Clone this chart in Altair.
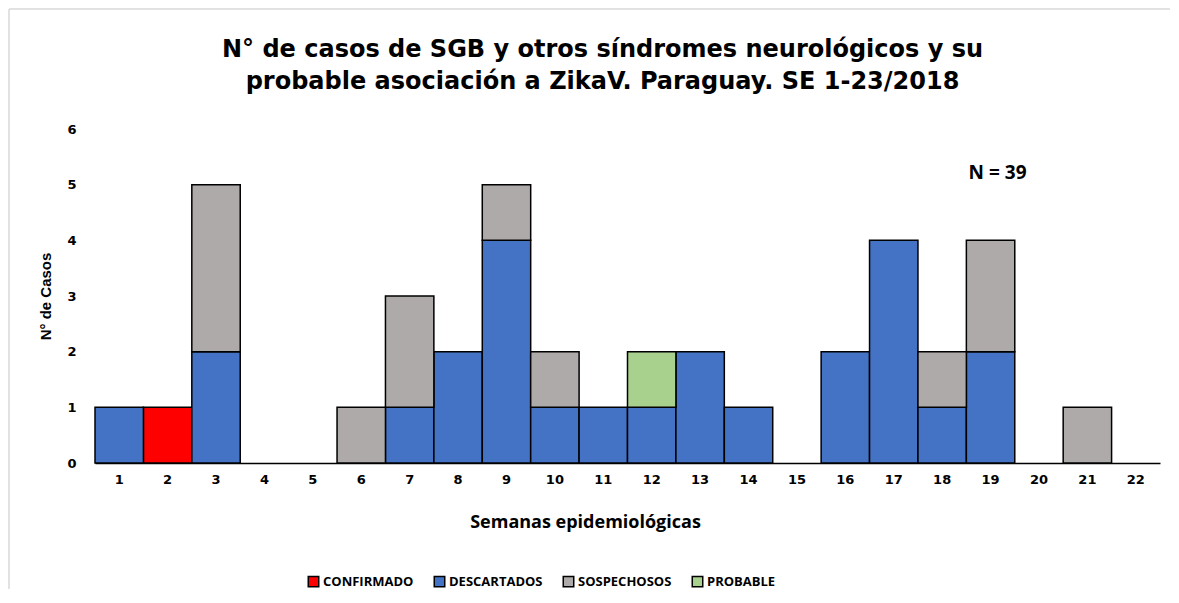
import altair as alt
import pandas as pd

weeks = [str(w) for w in range(1, 23)]
confirmado = [0, 1, 0, 0, 0, 0, 0, 0, 0, 0, 0, 0, 0, 0, 0, 0, 0, 0, 0, 0, 0, 0]
descartados = [1, 0, 2, 0, 0, 0, 1, 2, 4, 1, 1, 1, 2, 1, 0, 2, 4, 1, 2, 0, 0, 0]
sospechosos = [0, 0, 3, 0, 0, 1, 2, 0, 1, 1, 0, 0, 0, 0, 0, 0, 0, 1, 2, 0, 1, 0]
probable = [0, 0, 0, 0, 0, 0, 0, 0, 0, 0, 0, 1, 0, 0, 0, 0, 0, 0, 0, 0, 0, 0]

categories = ["CONFIRMADO", "DESCARTADOS", "SOSPECHOSOS", "PROBABLE"]
colors = ["#FF0000", "#4472C4", "#AEAAAA", "#A9D18E"]
stack_order = {"DESCARTADOS": 0, "CONFIRMADO": 1, "SOSPECHOSOS": 2, "PROBABLE": 3}

rows = []
for cat, vals in zip(categories, [confirmado, descartados, sospechosos, probable]):
    for w, v in zip(weeks, vals):
        if v > 0:
            rows.append({"Semana": w, "Tipo": cat, "Casos": v, "orden": stack_order[cat]})
df = pd.DataFrame(rows)

x_enc = alt.X("Semana:N", sort=weeks,
              scale=alt.Scale(domain=weeks, paddingInner=0, paddingOuter=0),
              axis=alt.Axis(title="Semanas epidemiológicas", labelAngle=0, ticks=False,
                            domainColor="black", domainWidth=1.5, labelPadding=10,
                            titleX=490, titleY=59, titleBaseline="middle", titleAlign="center",
                            labelFont="DejaVu Sans", labelFontWeight="bold",
                            labelFontSize=13, labelColor="black", titleFont="Open Sans",
                            titleFontWeight="bold", titleFontSize=18, titleColor="black"))

bars = alt.Chart(df).mark_bar(stroke="black", strokeWidth=1.5).encode(
    x=x_enc,
    y=alt.Y("sum(Casos):Q", stack="zero",
            scale=alt.Scale(domain=[0, 6]),
            axis=alt.Axis(title="N° de Casos", values=[0, 1, 2, 3, 4, 5, 6], format="d",
                          ticks=False, domain=False, grid=False, labelPadding=19,
                          titleX=-50, titleY=167, titleAngle=270, titleBaseline="middle",
                          titleAlign="center",
                          labelFont="DejaVu Sans", labelFontWeight="bold", labelFontSize=13,
                          labelColor="black", titleFont="Liberation Sans", titleFontWeight="bold",
                          titleFontSize=15, titleColor="black")),
    color=alt.Color("Tipo:N", scale=alt.Scale(domain=categories, range=colors),
                    legend=alt.Legend(title=None, orient="none", direction="horizontal",
                                      legendX=212, legendY=446, symbolType="square",
                                      symbolSize=110, symbolStrokeColor="black",
                                      symbolStrokeWidth=1.5, labelFont="Open Sans",
                                      labelFontWeight="bold", labelFontSize=13,
                                      labelColor="black", columnPadding=17, labelOffset=3)),
    order=alt.Order("orden:Q"),
)

note = alt.Chart(pd.DataFrame({"Semana": ["19"], "y": [5.21], "t": ["N = 39"]})).mark_text(
    font="Open Sans", fontWeight="bold", fontSize=19, color="black", dx=7
).encode(x=alt.X("Semana:N", sort=weeks), y="y:Q", text="t:N")

frame_df = pd.DataFrame({"a": [0]})
frame_left = alt.Chart(frame_df).mark_rule(color="#d9d9d9", strokeWidth=1.5).encode(
    x=alt.value(-86), y=alt.value(-120), y2=alt.value(460))
frame_top = alt.Chart(frame_df).mark_rule(color="#d9d9d9", strokeWidth=1.5).encode(
    x=alt.value(-86), x2=alt.value(1075), y=alt.value(-120))

chart = alt.layer(frame_left, frame_top, bars, note).properties(
    width=1065, height=334,
    title=alt.TitleParams(
        text=["N° de casos de SGB y otros síndromes neurológicos y su",
              "probable asociación a ZikaV. Paraguay. SE 1-23/2018"],
        font="DejaVu Sans", fontSize=24, fontWeight="bold", color="black",
        anchor="middle", dx=-25, dy=120, offset=34, lineHeight=32),
    padding=0,
).configure_view(stroke=None).configure_axis(grid=False)

chart.save("out.html", embed_options={"renderer": "svg", "actions": False})
